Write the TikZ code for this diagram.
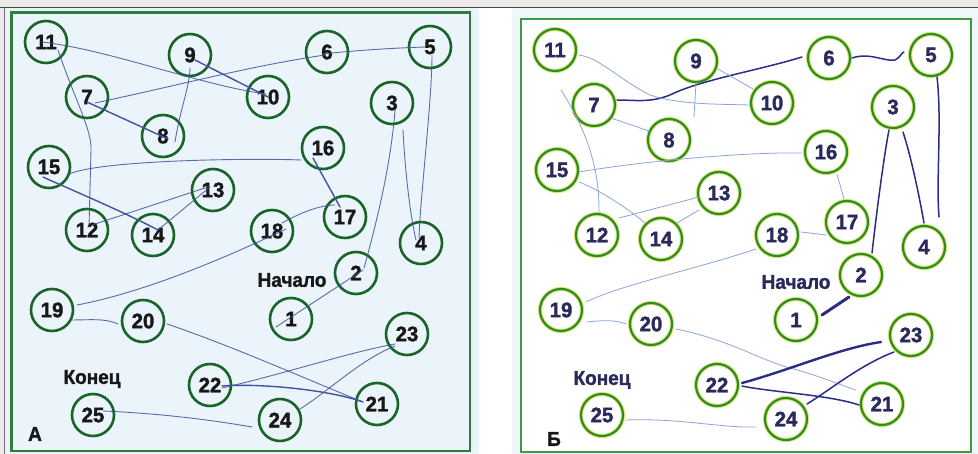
\documentclass[tikz,border=0pt]{standalone}
\usepackage{fontspec}
\setmainfont{Liberation Sans}
\newfontfamily\numf{Liberation Sans Bold}[FakeBold=1.6, FakeStretch=0.97]
\newfontfamily\labf{Liberation Sans Bold}[FakeBold=1.4, FakeStretch=0.95]
\usetikzlibrary{calc}
\definecolor{bgGrey}{HTML}{ECEBE9}
\definecolor{edgeDark}{HTML}{4A4A4A}
\definecolor{paleBlue}{HTML}{EAF4FA}
\definecolor{frameL}{HTML}{2F7D3A}
\definecolor{frameR}{HTML}{3C9A48}
\definecolor{circL}{HTML}{1A6329}
\definecolor{circR}{HTML}{2F8A2E}
\definecolor{haloR}{HTML}{DCE86E}
\definecolor{txtL}{HTML}{181818}
\definecolor{txtR}{HTML}{2B2A5C}
\definecolor{penL}{HTML}{41549A}
\definecolor{penLight}{HTML}{8AA6D8}
\definecolor{penDark}{HTML}{2A2D86}
\tikzset{
  lnode/.style={circle, draw=circL, line width=2.6pt, minimum size=42pt, inner sep=0pt,
    text=txtL, font=\numf\fontsize{21}{21}\selectfont},
  rnode/.style={circle, draw=circR, line width=2.2pt, minimum size=42pt, inner sep=0pt,
    preaction={draw=haloR, line width=4.2pt},
    text=txtR, font=\numf\fontsize{21}{21}\selectfont},
  lline/.style={draw=penL, line width=0.9pt, line cap=round, opacity=0.85},
  lbold/.style={draw=penL, line width=1.4pt, line cap=round},
  rlight/.style={draw=penLight, line width=0.8pt, line cap=round},
  rdark/.style={draw=penDark, line width=1.5pt, line cap=round},
  lab/.style={font=\labf\fontsize{20}{20}\selectfont},
}
\begin{document}
\begin{tikzpicture}[x=1pt,y=-1pt]
\useasboundingbox (0,0) rectangle (978,454);
% backgrounds
\fill[bgGrey] (0,0) rectangle (978,454);
\fill[paleBlue] (4,8) rectangle (479,454);
\fill[white] (479,8) rectangle (978,454);
\fill[paleBlue!70] (512,8) rectangle (978,454);
\fill[white] (521,19) rectangle (971,452);
\draw[edgeDark, line width=1pt] (0,7.5) -- (978,7.5);
\draw[edgeDark!80, line width=1pt] (4,8) -- (4,454);
\draw[frameL, line width=2.2pt] (11.5,12.5) rectangle (470,451);
\draw[frameR, line width=2pt] (521,19) rectangle (971,452);

% ---------------- left panel nodes
\node[lnode] (l1) at (291,319) {1};
\node[lnode] (l2) at (356,273) {2};
\node[lnode] (l3) at (392,103) {3};
\node[lnode] (l4) at (421,243) {4};
\node[lnode] (l5) at (430,47) {5};
\node[lnode] (l6) at (327,52) {6};
\node[lnode] (l7) at (87,97) {7};
\node[lnode] (l8) at (163,136) {8};
\node[lnode] (l9) at (190,55) {9};
\node[lnode] (l10) at (268,97) {10};
\node[lnode] (l11) at (46,42) {11};
\node[lnode] (l12) at (87,230) {12};
\node[lnode] (l13) at (213,190) {13};
\node[lnode] (l14) at (153,235) {14};
\node[lnode] (l15) at (49,167) {15};
\node[lnode] (l16) at (323,148) {16};
\node[lnode] (l17) at (345,217) {17};
\node[lnode] (l18) at (272,231) {18};
\node[lnode] (l19) at (52,310) {19};
\node[lnode] (l20) at (143,321) {20};
\node[lnode] (l21) at (377,404) {21};
\node[lnode] (l22) at (210,385) {22};
\node[lnode] (l23) at (407,334) {23};
\node[lnode] (l24) at (280,420) {24};
\node[lnode] (l25) at (93,415) {25};
\node[lab, text=txtL] (lstart) at (292,280) {Начало};
\node[lab, text=txtL] (lend) at (92,379) {Конец};
\node[lab, text=txtL] (lA) at (35,434) {А};

% left connectors
\draw[lline] ($(l1)+(-15,8)$) -- ($(l2)+(7,-3)$);
\draw[lline] ($(l2)+(8,-5)$) .. controls (383,200) and (392,150) .. ($(l3)+(3,7)$);
\draw[lline] ($(l3)+(11,27)$) .. controls (405,170) and (410,215) .. ($(l4)+(-5,-3)$);
\draw[lline] ($(l4)+(-2,-5)$) .. controls (420,200) and (432,100) .. ($(l5)+(2,8)$);
\draw[lline] ($(l5)+(-5,0)$) .. controls (395,48) and (360,50) .. ($(l6)+(-5,2)$);
\draw[lline] ($(l6)+(-2,3)$) .. controls (250,66) and (180,85) .. ($(l7)+(8,6)$);
\draw[lbold] ($(l7)+(0,5)$) -- ($(l8)+(5,3)$);
\draw[lline] ($(l8)+(12,6)$) .. controls (180,110) and (190,85) .. ($(l9)+(0,13)$);
\draw[lbold] ($(l9)+(5,5)$) -- ($(l10)+(0,0)$);
\draw[lline] ($(l10)+(-2,-3)$) .. controls (200,85) and (110,50) .. ($(l11)+(-4,0)$);
\draw[lline] ($(l11)+(12,8)$) .. controls (75,100) and (92,130) .. (91,150) -- ($(l12)+(2,-3)$);
\draw[lline] ($(l12)+(5,-5)$) -- ($(l13)+(-5,-3)$);
\draw[lline] ($(l13)+(-3,-3)$) -- ($(l14)+(5,-5)$);
\draw[lbold] ($(l15)+(-6,10)$) .. controls (60,185) and (120,210) .. ($(l14)+(5,-5)$);
\draw[lline] ($(l15)+(18,8)$) .. controls (95,160) and (250,158) .. ($(l16)+(-22,12)$);
\draw[lbold] ($(l16)+(-10,10)$) -- ($(l17)+(-5,-10)$);
\draw[lline] ($(l18)+(10,-8)$) .. controls (300,213) and (320,205) .. ($(l17)+(-10,-12)$);
\draw[lline] ($(l18)+(14,-2)$) .. controls (200,270) and (130,295) .. ($(l19)+(25,-5)$);
\draw[lline] ($(l19)+(18,10)$) .. controls (90,320) and (105,318) .. ($(l20)+(-25,3)$);
\draw[lline] ($(l20)+(24,3)$) .. controls (230,345) and (320,385) .. ($(l21)+(-14,-2)$);
\draw[lbold] ($(l22)+(12,1)$) .. controls (260,383) and (330,390) .. ($(l21)+(-14,-2)$);
\draw[lline] ($(l22)+(12,3)$) .. controls (280,375) and (350,352) .. ($(l23)+(-12,10)$);
\draw[lline] ($(l23)+(-12,12)$) .. controls (360,360) and (330,390) .. ($(l24)+(20,-11)$);
\draw[lline] ($(l25)+(10,-4)$) .. controls (150,413) and (200,418) .. ($(l24)+(-28,7)$);

% ---------------- right panel nodes
\node[rnode] (r1) at (796,320) {1};
\node[rnode] (r2) at (861,275) {2};
\node[rnode] (r3) at (893,107) {3};
\node[rnode] (r4) at (924,247) {4};
\node[rnode] (r5) at (931,55) {5};
\node[rnode] (r6) at (829,58) {6};
\node[rnode] (r7) at (594,105) {7};
\node[rnode] (r8) at (669,140) {8};
\node[rnode] (r9) at (696,61) {9};
\node[rnode] (r10) at (772,103) {10};
\node[rnode] (r11) at (555,50) {11};
\node[rnode] (r12) at (597,235) {12};
\node[rnode] (r13) at (719,193) {13};
\node[rnode] (r14) at (661,239) {14};
\node[rnode] (r15) at (557,170) {15};
\node[rnode] (r16) at (826,152) {16};
\node[rnode] (r17) at (847,222) {17};
\node[rnode] (r18) at (777,235) {18};
\node[rnode] (r19) at (561,310) {19};
\node[rnode] (r20) at (651,324) {20};
\node[rnode] (r21) at (882,404) {21};
\node[rnode] (r22) at (717,385) {22};
\node[rnode] (r23) at (911,335) {23};
\node[rnode] (r24) at (786,419) {24};
\node[rnode] (r25) at (602,415) {25};
\node[lab, text=txtR] (rstart) at (796,282) {Начало};
\node[lab, text=txtR] (rend) at (602,380) {Конец};
\node[lab, text=txtL] (rB) at (554,439) {Б};

% right connectors
\draw[rdark, line width=3pt] ($(r1)+(26,-5)$) -- ($(r2)+(-12,22)$);
\draw[rdark] ($(r2)+(11,-22)$) .. controls (878,200) and (885,150) .. ($(r3)+(-4,23)$);
\draw[rdark] ($(r3)+(10,25)$) .. controls (912,160) and (920,200) .. ($(r4)+(0,-24)$);
\draw[rdark] ($(r5)+(6,22)$) .. controls (942,120) and (936,180) .. ($(r4)+(15,-30)$);
\draw[rdark] ($(r6)+(23,0)$) .. controls (870,52) and (885,62) .. (895,60) .. controls (900,58) and (902,52) .. ($(r5)+(-27,-3)$);
\draw[rdark] ($(r6)+(-27,-1)$) .. controls (760,70) and (700,80) .. (670,95) .. controls (650,103) and (635,100) .. ($(r7)+(23,-5)$);
\draw[rlight] ($(r7)+(17,13)$) -- ($(r8)+(-20,-9)$);
\draw[rlight] ($(r9)+(0,22)$) -- ($(r8)+(25,-23)$);
\draw[rlight] ($(r9)+(22,8)$) -- ($(r10)+(-19,-14)$);
\draw[rlight] ($(r11)+(24,5)$) .. controls (600,58) and (620,80) .. (650,95) .. controls (680,105) and (720,104) .. ($(r10)+(-23,2)$);
\draw[rlight] ($(r11)+(6,40)$) .. controls (580,120) and (600,160) .. ($(r12)+(2,-22)$);
\draw[rlight] ($(r12)+(22,-17)$) -- ($(r13)+(-20,4)$);
\draw[rlight] ($(r13)+(-20,17)$) -- ($(r14)+(16,-16)$);
\draw[rlight] ($(r15)+(22,12)$) .. controls (600,190) and (630,210) .. ($(r14)+(-16,-16)$);
\draw[rlight] ($(r15)+(22,2)$) .. controls (650,160) and (750,152) .. ($(r16)+(-24,1)$);
\draw[rlight] ($(r16)+(11,22)$) -- ($(r17)+(-3,-23)$);
\draw[rlight] ($(r18)+(24,-3)$) -- ($(r17)+(-21,13)$);
\draw[rlight] ($(r18)+(-21,14)$) .. controls (700,268) and (620,285) .. ($(r19)+(25,-8)$);
\draw[rlight] ($(r19)+(26,12)$) .. controls (605,320) and (615,320) .. ($(r20)+(-25,0)$);
\draw[rlight] ($(r20)+(25,5)$) .. controls (730,340) and (760,360) .. (790,368) .. controls (820,376) and (840,385) .. ($(r21)+(-26,-14)$);
\draw[rdark] ($(r22)+(25,1)$) .. controls (770,392) and (830,395) .. ($(r21)+(-23,1)$);
\draw[rdark, line width=2.4pt] ($(r22)+(25,-2)$) .. controls (790,370) and (840,348) .. ($(r23)+(-30,7)$);
\draw[rdark] ($(r23)+(-17,17)$) .. controls (860,365) and (830,390) .. ($(r24)+(21,-15)$);
\draw[rlight] ($(r25)+(24,5)$) .. controls (680,418) and (720,428) .. ($(r24)+(-30,8)$);
\end{tikzpicture}
\end{document}
